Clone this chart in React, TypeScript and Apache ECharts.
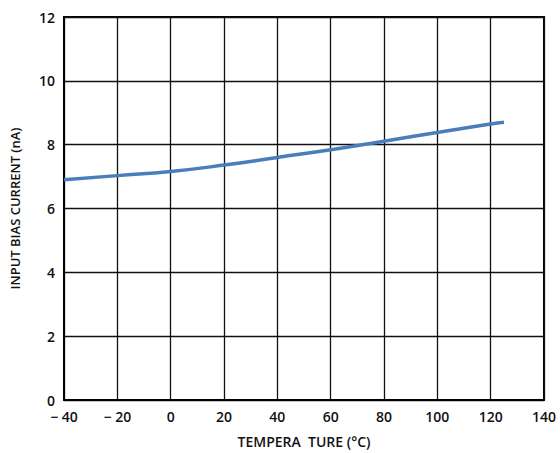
import React, { useEffect, useRef } from "react";
import * as echarts from "echarts";

const temperatures = [-40, -20, 0, 20, 40, 60, 80, 100, 120, 125];
const biasCurrent = [6.9, 7.03, 7.16, 7.36, 7.6, 7.84, 8.11, 8.38, 8.65, 8.7];
const xTicks = [-40, -20, 0, 20, 40, 60, 80, 100, 120, 140];
const yTicks = [0, 2, 4, 6, 8, 10, 12];

const FONT = "'Open Sans', 'Noto Sans', sans-serif";

export default function App() {
  const ref = useRef<HTMLDivElement>(null);
  useEffect(() => {
    if (!ref.current) return;
    const chart = echarts.init(ref.current, null, { renderer: "svg" });
    chart.setOption({
      animation: false,
      backgroundColor: "#ffffff",
      grid: { left: 63, right: 16, top: 17, bottom: 53, show: true, borderColor: "#000", borderWidth: 2 },
      xAxis: {
        type: "value",
        min: -40,
        max: 140,
        interval: 20,
        name: "TEMPERA  TURE (°C)",
        nameLocation: "middle",
        nameGap: 34,
        nameTextStyle: { fontFamily: FONT, fontSize: 14, fontWeight: 600, color: "#111" },
        axisLine: { show: true, onZero: false, lineStyle: { color: "#000", width: 2 } },
        axisTick: { show: false },
        splitLine: { show: true, lineStyle: { color: "#111", width: 1.3 } },
        axisLabel: {
          fontFamily: FONT,
          fontSize: 14,
          fontWeight: 600,
          color: "#111",
          margin: 9,
          lineHeight: 14,
          formatter: (v: number) => (xTicks.includes(v) ? (v < 0 ? "− " + Math.abs(v) : String(v)) : ""),
        },
      },
      yAxis: {
        type: "value",
        min: 0,
        max: 12,
        interval: 2,
        name: "INPUT BIAS CURRENT (nA)",
        nameLocation: "middle",
        nameGap: 43,
        nameTextStyle: { fontFamily: FONT, fontSize: 13, fontWeight: 600, color: "#111" },
        axisLine: { show: true, onZero: false, lineStyle: { color: "#000", width: 2 } },
        axisTick: { show: false },
        splitLine: { show: true, lineStyle: { color: "#111", width: 1.3 } },
        axisLabel: {
          fontFamily: FONT,
          fontSize: 14,
          fontWeight: 600,
          color: "#111",
          margin: 9,
          lineHeight: 14,
          formatter: (v: number) => (yTicks.includes(v) ? String(v) : ""),
        },
      },
      series: [
        {
          type: "line",
          data: temperatures.map((t, i) => [t, biasCurrent[i]]),
          smooth: true,
          showSymbol: false,
          lineStyle: { color: "#4a7ebb", width: 3.5 },
        },
      ],
    });
    return () => chart.dispose();
  }, []);
  return <div ref={ref} style={{ width: 560, height: 453, position: "absolute", left: 0, top: 0 }} />;
}
